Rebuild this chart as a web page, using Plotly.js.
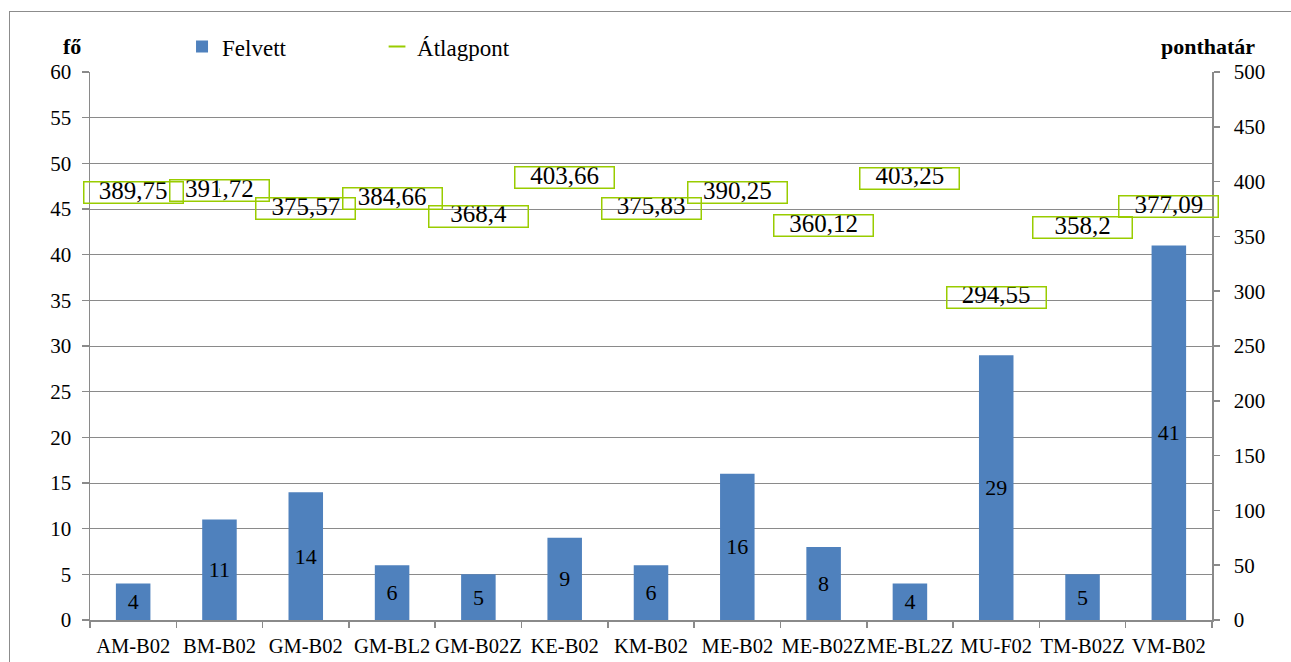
<!DOCTYPE html>
<html>
<head>
<meta charset="utf-8">
<script src="https://cdn.plot.ly/plotly-3.0.1.min.js"></script>
<style>
  html, body { margin: 0; padding: 0; background: #fff; }
  #wrap { position: relative; width: 1291px; height: 662px; overflow: hidden; }
  #chart { position: absolute; left: 0; top: 0; width: 1291px; height: 662px; }
  #chart text { font-family: "Liberation Serif", "Times New Roman", serif !important; }
  #frame { position: absolute; left: 9px; top: 11px; width: 1400px; height: 800px;
           border-left: 1.5px solid #8c8c8c; border-top: 1.5px solid #8c8c8c; pointer-events: none; }
</style>
</head>
<body>
<div id="wrap">
  <div id="chart"></div>
  <div id="frame"></div>
</div>
<script>
// ---- data ----
const categories = ['AM-B02','BM-B02','GM-B02','GM-BL2','GM-B02Z','KE-B02','KM-B02','ME-B02','ME-B02Z','ME-BL2Z','MU-F02','TM-B02Z','VM-B02'];
const felvett = [4, 11, 14, 6, 5, 9, 6, 16, 8, 4, 29, 5, 41];
const atlagpont = [389.75, 391.72, 375.57, 384.66, 368.4, 403.66, 375.83, 390.25, 360.12, 403.25, 294.55, 358.2, 377.09];
const leftTicks = [0,5,10,15,20,25,30,35,40,45,50,55,60];
const rightTicks = [0,50,100,150,200,250,300,350,400,450,500];

const FONT = 'Liberation Serif';
const GRID = '#8a8a8a';
const GREEN = '#99CC00';
const fmt = v => String(v).replace('.', ',');

const traces = [
  {
    type: 'bar', name: 'Felvett', x: categories, y: felvett,
    width: 0.4, marker: { color: '#4F81BD' },
    text: felvett.map(String), textposition: 'inside', insidetextanchor: 'middle',
    textangle: 0, textfont: { family: FONT, size: 22, color: '#000' },
    constraintext: 'none', cliponaxis: false
  },
  {
    type: 'scatter', name: 'Átlagpont', x: categories, y: atlagpont, yaxis: 'y2',
    mode: 'markers', marker: { symbol: 'line-ew', size: 0.5, color: GREEN, line: { color: GREEN, width: 5 } },
    cliponaxis: false
  },
  {
    type: 'scatter', name: 'Átlagpont címke', x: categories, y: atlagpont, yaxis: 'y2',
    mode: 'text', text: atlagpont.map(fmt), textposition: 'middle center',
    textfont: { family: FONT, size: 25, color: '#000' }, showlegend: false, cliponaxis: false
  }
];

const boxes = categories.map((c, i) => ({
  x: c, y: atlagpont[i], xref: 'x', yref: 'y2', text: ' ', showarrow: false,
  width: 96, height: 18, borderpad: 1, borderwidth: 1.5, bordercolor: GREEN,
  bgcolor: 'rgba(0,0,0,0)', font: { size: 2 }
}));

const layout = {
  width: 1291, height: 662,
  margin: { l: 90, r: 79, t: 72, b: 42, pad: 0 },
  paper_bgcolor: '#fff', plot_bgcolor: '#fff',
  font: { family: FONT, color: '#000' },
  hovermode: false, bargap: 0.6,
  showlegend: true,
  legend: {
    orientation: 'h', xref: 'container', yref: 'container',
    x: 0.141, y: 0.962, xanchor: 'left', yanchor: 'top',
    font: { family: FONT, size: 23, color: '#000' },
    entrywidth: 150, entrywidthmode: 'pixels', itemsizing: 'constant',
    bgcolor: 'rgba(0,0,0,0)', borderwidth: 0, traceorder: 'normal'
  },
  xaxis: {
    type: 'category', range: [-0.5, 12.5], tickson: 'boundaries', tickangle: 0,
    ticks: 'outside', ticklen: 6, tickwidth: 1.5, tickcolor: GRID,
    showline: true, linecolor: GRID, linewidth: 1.5, showgrid: false, zeroline: false,
    tickfont: { family: FONT, size: 20.5, color: '#000' }, ticklabelstandoff: 7, fixedrange: true
  },
  yaxis: {
    range: [0, 60], tickvals: leftTicks, ticktext: leftTicks.map(String),
    ticks: 'outside', ticklen: 7, tickwidth: 1.5, tickcolor: GRID,
    showline: true, linecolor: GRID, linewidth: 1.5,
    showgrid: true, gridcolor: GRID, gridwidth: 1, zeroline: false,
    tickfont: { family: FONT, size: 21, color: '#000' }, ticklabelstandoff: 6, fixedrange: true
  },
  yaxis2: {
    overlaying: 'y', side: 'right', range: [0, 500],
    tickvals: rightTicks, ticktext: rightTicks.map(String),
    ticks: 'outside', ticklen: 6, tickwidth: 1.5, tickcolor: GRID,
    showline: true, linecolor: GRID, linewidth: 1.5, showgrid: false, zeroline: false,
    tickfont: { family: FONT, size: 21, color: '#000' }, ticklabelstandoff: 10, fixedrange: true
  },
  annotations: boxes.concat([
    { text: '<b>fő</b>', xref: 'paper', yref: 'paper', x: -0.016, y: 1.0457, showarrow: false,
      xanchor: 'center', yanchor: 'middle', font: { family: FONT, size: 22, color: '#000' } },
    { text: '<b>ponthatár</b>', xref: 'paper', yref: 'paper', x: 0.9965, y: 1.0457, showarrow: false,
      xanchor: 'center', yanchor: 'middle', font: { family: FONT, size: 22, color: '#000' } }
  ])
};

Plotly.newPlot('chart', traces, layout, { displayModeBar: false, staticPlot: true });
</script>
</body>
</html>
